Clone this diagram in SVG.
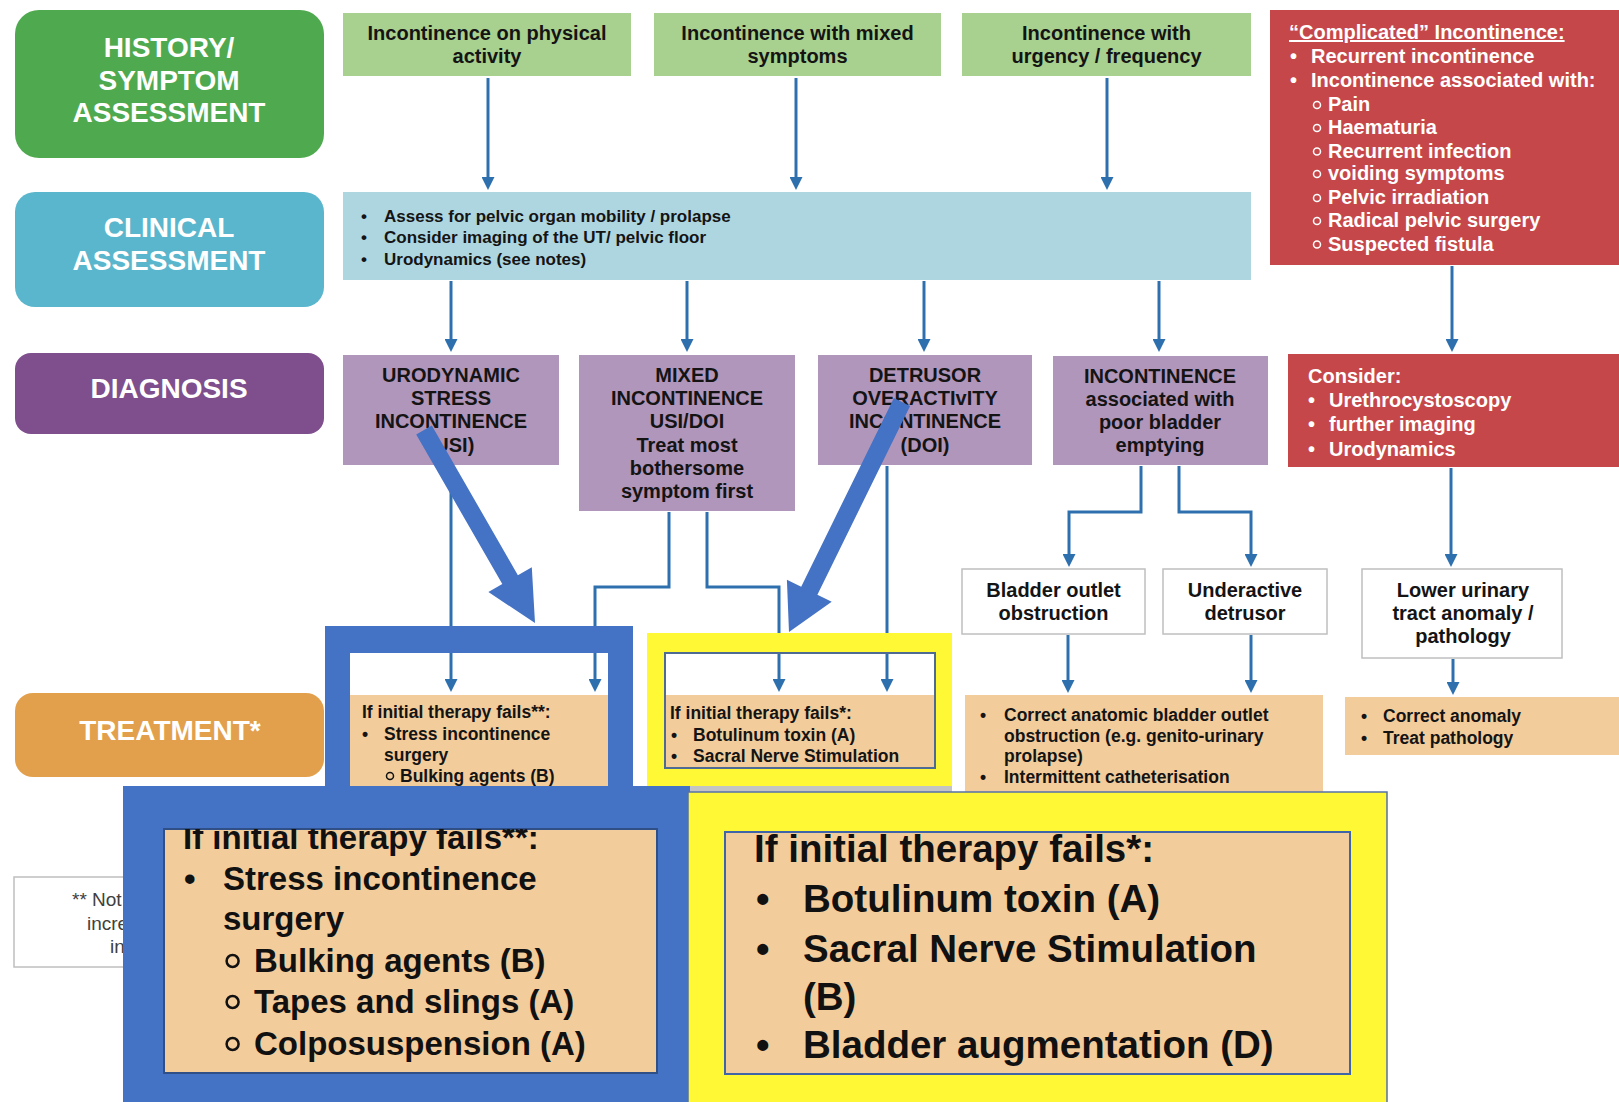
<svg xmlns="http://www.w3.org/2000/svg" width="1619" height="1102" viewBox="0 0 1619 1102" font-family="'Liberation Sans', Arial, sans-serif">
<style>
.lbl{font-weight:bold;font-size:28px;fill:#fff;text-anchor:middle}
.m{text-anchor:middle}
.s20{font-size:20px;font-weight:bold;fill:#141414}
.s17{font-size:17px;font-weight:bold;fill:#141414}
.s175{font-size:17.5px;font-weight:bold;fill:#141414}
.w20{font-size:20px;font-weight:bold;fill:#fff}
.big33{font-size:33px;font-weight:bold;fill:#111}
.big38{font-size:38.5px;font-weight:bold;fill:#111}
.conn{fill:none;stroke:#2E70AE;stroke-width:3;marker-end:url(#ah)}
.wbox{fill:#fff;stroke:#BFBFBF;stroke-width:1.5}
.lg{fill:#A8D08F}
.pu{fill:#B196BB}
.rd{fill:#C6474A}
.or{fill:#F3CC9C}
.blue{fill:#4472C4}
.yel{fill:#FFF935}
.hc{fill:none;stroke:#fff;stroke-width:1.5}
.hk{fill:none;stroke:#111;stroke-width:1.5}
.fn{font-size:19px;fill:#404040}
</style>
<defs>
<marker id="ah" markerUnits="userSpaceOnUse" markerWidth="13" markerHeight="13" viewBox="0 0 13 13" refX="7" refY="6.5" orient="auto"><path d="M0,0 L13,6.5 L0,13 z" fill="#2E70AE"/></marker>
<clipPath id="cb"><rect x="164" y="829" width="493" height="244"/></clipPath>
</defs>
<rect width="1619" height="1102" fill="#fff"/>

<g id="label-history"><rect x="15" y="10" width="309" height="148" rx="24" fill="#4FA94F"/><text class="lbl" x="169" y="57">HISTORY/</text><text class="lbl" x="169" y="89.5">SYMPTOM</text><text class="lbl" x="169" y="122">ASSESSMENT</text></g>
<g id="label-clinical"><rect x="15" y="192" width="309" height="115" rx="20" fill="#5AB6CC"/><text class="lbl" x="169" y="237">CLINICAL</text><text class="lbl" x="169" y="270">ASSESSMENT</text></g>
<g id="label-diagnosis"><rect x="15" y="353" width="309" height="81" rx="16" fill="#7E4E8D"/><text class="lbl" x="169" y="398">DIAGNOSIS</text></g>
<g id="label-treatment"><rect x="15" y="693" width="309" height="84" rx="18" fill="#E2A04C"/><text class="lbl" x="170" y="740">TREATMENT*</text></g>

<g id="hist-physical"><rect class="lg" x="343" y="13" width="288" height="63"/><text class="s20 m" x="487" y="40">Incontinence on physical</text><text class="s20 m" x="487" y="63">activity</text></g>
<g id="hist-mixed"><rect class="lg" x="654" y="13" width="287" height="63"/><text class="s20 m" x="797.5" y="40">Incontinence with mixed</text><text class="s20 m" x="797.5" y="63">symptoms</text></g>
<g id="hist-urgency"><rect class="lg" x="962" y="13" width="289" height="63"/><text class="s20 m" x="1106.5" y="40">Incontinence with</text><text class="s20 m" x="1106.5" y="63">urgency / frequency</text></g>

<g id="complicated"><rect class="rd" x="1270" y="10" width="349" height="255"/>
<text class="w20" x="1289" y="39" text-decoration="underline">“Complicated” Incontinence:</text>
<text class="w20" x="1290" y="63">•</text><text class="w20" x="1311" y="63">Recurrent incontinence</text>
<text class="w20" x="1290" y="87">•</text><text class="w20" x="1311" y="87">Incontinence associated with:</text>
<circle class="hc" cx="1317" cy="105" r="3.5"/><text class="w20" x="1328" y="111">Pain</text>
<circle class="hc" cx="1317" cy="128" r="3.5"/><text class="w20" x="1328" y="134">Haematuria</text>
<circle class="hc" cx="1317" cy="151.5" r="3.5"/><text class="w20" x="1328" y="157.5">Recurrent infection</text>
<circle class="hc" cx="1317" cy="174" r="3.5"/><text class="w20" x="1328" y="180">voiding symptoms</text>
<circle class="hc" cx="1317" cy="198" r="3.5"/><text class="w20" x="1328" y="204">Pelvic irradiation</text>
<circle class="hc" cx="1317" cy="221" r="3.5"/><text class="w20" x="1328" y="227">Radical pelvic surgery</text>
<circle class="hc" cx="1317" cy="244.5" r="3.5"/><text class="w20" x="1328" y="250.5">Suspected fistula</text>
</g>

<g id="clinical"><rect x="343" y="192" width="908" height="88" fill="#AED6E0"/>
<text class="s17" x="361" y="221.5">•</text><text class="s17" x="384" y="221.5">Assess for pelvic organ mobility / prolapse</text>
<text class="s17" x="361" y="243">•</text><text class="s17" x="384" y="243">Consider imaging of the UT/ pelvic floor</text>
<text class="s17" x="361" y="265">•</text><text class="s17" x="384" y="265">Urodynamics (see notes)</text>
</g>

<g id="diag-usi"><rect class="pu" x="343" y="355" width="216" height="110"/><text class="s20 m" x="451" y="382">URODYNAMIC</text><text class="s20 m" x="451" y="405">STRESS</text><text class="s20 m" x="451" y="428">INCONTINENCE</text><text class="s20 m" x="451" y="452">(USI)</text></g>
<g id="diag-mixed"><rect class="pu" x="579" y="355" width="216" height="156"/><text class="s20 m" x="687" y="382">MIXED</text><text class="s20 m" x="687" y="405">INCONTINENCE</text><text class="s20 m" x="687" y="428">USI/DOI</text><text class="s20 m" x="687" y="452">Treat most</text><text class="s20 m" x="687" y="475">bothersome</text><text class="s20 m" x="687" y="498">symptom first</text></g>
<g id="diag-doi"><rect class="pu" x="818" y="355" width="214" height="110"/><text class="s20 m" x="925" y="382">DETRUSOR</text><text class="s20 m" x="925" y="405">OVERACTIvITY</text><text class="s20 m" x="925" y="428">INCONTINENCE</text><text class="s20 m" x="925" y="452">(DOI)</text></g>
<g id="diag-emptying"><rect class="pu" x="1053" y="356" width="215" height="109"/><text class="s20 m" x="1160" y="383">INCONTINENCE</text><text class="s20 m" x="1160" y="406">associated with</text><text class="s20 m" x="1160" y="429">poor bladder</text><text class="s20 m" x="1160" y="452">emptying</text></g>
<g id="consider"><rect class="rd" x="1288" y="354" width="331" height="113"/>
<text class="w20" x="1308" y="383">Consider:</text>
<text class="w20" x="1308" y="407">•</text><text class="w20" x="1329" y="407">Urethrocystoscopy</text>
<text class="w20" x="1308" y="431">•</text><text class="w20" x="1329" y="431">further imaging</text>
<text class="w20" x="1308" y="456">•</text><text class="w20" x="1329" y="456">Urodynamics</text>
</g>

<g id="outlet-obstruction"><rect class="wbox" x="962" y="569" width="183" height="65"/><text class="s20 m" x="1053.5" y="597">Bladder outlet</text><text class="s20 m" x="1053.5" y="620">obstruction</text></g>
<g id="underactive"><rect class="wbox" x="1163" y="569" width="164" height="65"/><text class="s20 m" x="1245" y="597">Underactive</text><text class="s20 m" x="1245" y="620">detrusor</text></g>
<g id="lower-urinary"><rect class="wbox" x="1362" y="569" width="200" height="89"/><text class="s20 m" x="1463" y="597">Lower urinary</text><text class="s20 m" x="1463" y="620">tract anomaly /</text><text class="s20 m" x="1463" y="643">pathology</text></g>

<g id="treat-emptying"><rect class="or" x="965" y="695" width="358" height="97"/>
<text class="s175" x="980" y="721">•</text><text class="s175" x="1004" y="721">Correct anatomic bladder outlet</text>
<text class="s175" x="1004" y="742">obstruction (e.g. genito-urinary</text>
<text class="s175" x="1004" y="762">prolapse)</text>
<text class="s175" x="980" y="783">•</text><text class="s175" x="1004" y="783">Intermittent catheterisation</text>
</g>
<g id="treat-anomaly"><rect class="or" x="1345" y="697" width="274" height="58"/>
<text class="s175" x="1361" y="721.5">•</text><text class="s175" x="1383" y="721.5">Correct anomaly</text>
<text class="s175" x="1361" y="744">•</text><text class="s175" x="1383" y="744">Treat pathology</text>
</g>
<g id="treat-usi"><rect class="or" x="350" y="695" width="258" height="91"/>
<text class="s175" x="362" y="718">If initial therapy fails**:</text>
<text class="s175" x="362" y="740">•</text><text class="s175" x="384" y="740">Stress incontinence</text>
<text class="s175" x="384" y="761">surgery</text>
<circle class="hk" cx="390" cy="776" r="3.5"/><text class="s175" x="400" y="782">Bulking agents (B)</text>
</g>
<g id="treat-doi"><rect class="or" x="665" y="695" width="270" height="73"/>
<text class="s175" x="670" y="719">If initial therapy fails*:</text>
<text class="s175" x="671" y="741">•</text><text class="s175" x="693" y="741">Botulinum toxin (A)</text>
<text class="s175" x="671" y="762">•</text><text class="s175" x="693" y="762">Sacral Nerve Stimulation</text>
</g>

<g id="footnote"><rect class="wbox" x="14" y="877" width="140" height="90"/>
<text class="fn" x="72" y="906">** Not</text><text class="fn" x="87" y="930">incre</text><text class="fn" x="110" y="953">in</text></g>

<g id="connectors">
<path class="conn" d="M488,78V184"/>
<path class="conn" d="M796,78V184"/>
<path class="conn" d="M1107,78V184"/>
<path class="conn" d="M451,281V346"/>
<path class="conn" d="M687,281V346"/>
<path class="conn" d="M924,281V346"/>
<path class="conn" d="M1159,281V346"/>
<path class="conn" d="M1452,266V346"/>
<path class="conn" d="M451,466V686"/>
<path class="conn" d="M669,512V587H595V686"/>
<path class="conn" d="M707,512V587H779V686"/>
<path class="conn" d="M887,466V686"/>
<path class="conn" d="M1141,466V512H1069V561"/>
<path class="conn" d="M1179,466V512H1251V561"/>
<path class="conn" d="M1451,468V561"/>
<path class="conn" d="M1068,635V687"/>
<path class="conn" d="M1251,635V687"/>
<path class="conn" d="M1453,659V689"/>
</g>

<g id="frame-usi"><rect class="blue" x="325" y="626" width="308" height="27"/><rect class="blue" x="325" y="626" width="25" height="160"/><rect class="blue" x="608" y="626" width="25" height="160"/></g>
<g id="frame-doi"><path class="yel" fill-rule="evenodd" d="M647,633H952V786H647Z M665,653V768H935V653Z"/><rect x="665" y="653" width="270" height="115" fill="none" stroke="#4F6B94" stroke-width="2"/></g>

<g id="highlight-arrows">
<polygon class="blue" points="431.8,425.5 517.9,575.2 531.8,567.2 535,623 488.4,592.1 502.3,584.1 416.2,434.5"/>
<polygon class="blue" points="910.1,406 817.4,594.7 831.7,601.7 789,632 786.9,579.7 801.2,586.7 893.9,398"/>
</g>

<rect x="690" y="786" width="262" height="6" fill="#C4C4C4"/>

<g id="zoom-usi"><rect class="blue" x="123" y="786" width="567" height="316"/>
<rect class="or" x="164" y="829" width="493" height="244" stroke="#2F4F86" stroke-width="2"/>
<text class="big33" x="183" y="849" clip-path="url(#cb)">If initial therapy fails**:</text>
<text class="big33" x="184" y="890">•</text><text class="big33" x="223" y="890">Stress incontinence</text>
<text class="big33" x="223" y="930">surgery</text>
<circle cx="232.6" cy="961" r="6" fill="none" stroke="#111" stroke-width="2.5"/><text class="big33" x="254" y="972">Bulking agents (B)</text>
<circle cx="232.6" cy="1002" r="6" fill="none" stroke="#111" stroke-width="2.5"/><text class="big33" x="254" y="1013">Tapes and slings (A)</text>
<circle cx="232.6" cy="1044" r="6" fill="none" stroke="#111" stroke-width="2.5"/><text class="big33" x="254" y="1055">Colposuspension (A)</text>
</g>
<g id="zoom-doi"><rect class="yel" x="688" y="792" width="699" height="312" stroke="#5570A8" stroke-width="1.5"/>
<rect class="or" x="725" y="832" width="625" height="242" stroke="#3F64A8" stroke-width="2"/>
<text class="big38" x="754" y="862">If initial therapy fails*:</text>
<text class="big38" x="756" y="912">•</text><text class="big38" x="803" y="912">Botulinum toxin (A)</text>
<text class="big38" x="756" y="962">•</text><text class="big38" x="803" y="962">Sacral Nerve Stimulation</text>
<text class="big38" x="803" y="1010">(B)</text>
<text class="big38" x="756" y="1058">•</text><text class="big38" x="803" y="1058">Bladder augmentation (D)</text>
</g>
</svg>
